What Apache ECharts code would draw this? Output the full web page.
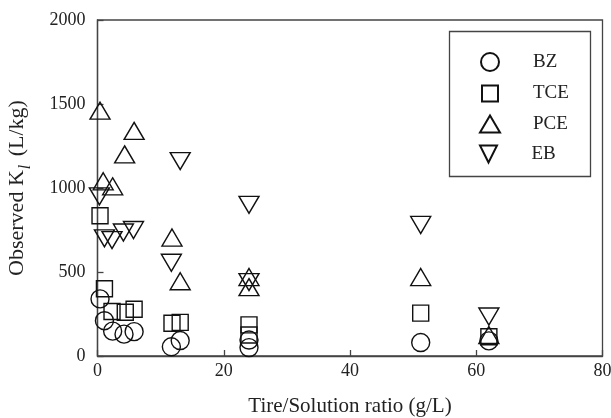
<!DOCTYPE html>
<html><head><meta charset="utf-8">
<script src="https://cdn.jsdelivr.net/npm/echarts@6/dist/echarts.min.js"></script>
<style>html,body{margin:0;padding:0;background:#fff}#c{width:611px;height:418px}</style>
</head><body><div id="c"></div>
<script>
const seriesNames = ['BZ', 'TCE', 'PCE', 'EB'];
const xTicks = [0, 20, 40, 60, 80];
const yTicks = [0, 500, 1000, 1500, 2000];
const bzX  = [0.4, 1.1, 2.4, 4.2, 5.8, 11.7, 13.1, 24, 24, 51.2, 62];
const bzY  = [340, 210, 148, 130, 145, 55, 92, 95, 50, 80, 90];
const tceX = [0.4, 1.1, 2.3, 4.4, 5.8, 11.8, 13.1, 24, 24, 51.2, 62];
const tceY = [835, 400, 265, 260, 278, 195, 200, 185, 125, 255, 115];
const pceX = [0.4, 0.9, 2.4, 4.3, 5.8, 11.8, 13.1, 24, 24, 51.2, 62];
const pceY = [1460, 1040, 1010, 1200, 1340, 705, 445, 470, 410, 470, 125];
const ebX  = [0.3, 1.1, 2.3, 4.1, 5.7, 11.7, 13.1, 24, 24, 51.2, 62];
const ebY  = [950, 700, 690, 735, 750, 555, 1160, 440, 900, 780, 235];

const FONT = 'Liberation Serif';
const INK = '#222';
const pairs = (xs, ys) => xs.map((x, i) => [x, ys[i]]);
const symbols = ['circle', 'rect', 'triangle', 'path://M0,0L10,0L5,10Z'];
const sizes = [[18, 18], [16, 16], [20, 17], [20, 17]];
const dataSets = [pairs(bzX, bzY), pairs(tceX, tceY), pairs(pceX, pceY), pairs(ebX, ebY)];
const legendRowY = [61, 92, 123, 153];
const iconCX = 489, textX = 532;

const chart = echarts.init(document.getElementById('c'), null, {renderer: 'canvas'});
const series = seriesNames.map((n, i) => ({
  name: n, type: 'scatter', data: dataSets[i],
  symbol: symbols[i], symbolSize: sizes[i],
  itemStyle: {color: 'rgba(0,0,0,0)', borderColor: '#111', borderWidth: 1.4, opacity: 1},
  emphasis: {disabled: true}, z: 3
}));
const legends = seriesNames.map((n, i) => ({
  data: [n], orient: 'horizontal', padding: 0,
  left: iconCX - sizes[i][0] / 2, top: legendRowY[i] - sizes[i][1] / 2,
  itemWidth: sizes[i][0], itemHeight: sizes[i][1],
  selectedMode: false,
  textStyle: {fontFamily: FONT, fontSize: 19, color: INK,
    padding: [0, 0, 0, textX - (iconCX + sizes[i][0] / 2) - 5]}
}));
const plain = v => String(v);
chart.setOption({
  animation: false,
  backgroundColor: '#fff',
  grid: {left: 97.5, right: 8.5, top: 20, bottom: 62, show: true, borderColor: '#444', borderWidth: 1.3,
    containLabel: false, outerBoundsMode: 'none'},
  legend: legends,
  graphic: [{type: 'rect', shape: {x: 449.5, y: 31.5, width: 141, height: 145},
    style: {fill: 'none', stroke: '#444', lineWidth: 1.3}, z: 10}],
  xAxis: {
    type: 'value', min: xTicks[0], max: xTicks[xTicks.length - 1], interval: 20,
    name: 'Tire/Solution ratio (g/L)', nameLocation: 'middle', nameGap: 40,
    nameTextStyle: {fontFamily: FONT, fontSize: 21, color: INK},
    axisLine: {show: true, lineStyle: {color: '#444', width: 1.3}},
    axisTick: {show: true, inside: true, length: 6, lineStyle: {color: '#444', width: 1.3}},
    axisLabel: {fontFamily: FONT, fontSize: 18, color: INK, margin: 6, showMaxLabel: true, formatter: plain},
    splitLine: {show: false}
  },
  yAxis: {
    type: 'value', min: yTicks[0], max: yTicks[yTicks.length - 1], interval: 500,
    name: '{m|Observed K}{sub|l}{m| (L/kg)}', nameLocation: 'middle', nameGap: 64, nameRotate: 90,
    nameTextStyle: {fontFamily: FONT, fontSize: 22, color: INK,
      rich: {
        m: {fontFamily: FONT, fontSize: 22, color: INK, verticalAlign: 'bottom', padding: [0, 0, 5, 0]},
        sub: {fontFamily: FONT, fontSize: 16, fontStyle: 'italic', color: INK, verticalAlign: 'bottom', padding: [0, 3, 0, 1]}
      }},
    axisLine: {show: true, lineStyle: {color: '#444', width: 1.3}},
    axisTick: {show: true, inside: true, length: 6, lineStyle: {color: '#444', width: 1.3}},
    axisLabel: {fontFamily: FONT, fontSize: 18, color: INK, margin: 12, formatter: plain},
    splitLine: {show: false}
  },
  series: series
});
</script></body></html>
